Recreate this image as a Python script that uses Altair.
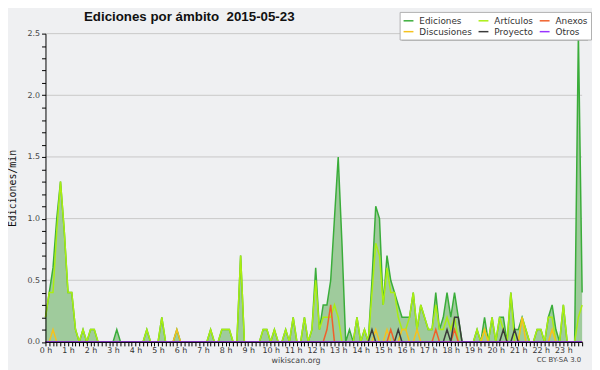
import altair as alt
import pandas as pd

# 10-minute bins, 0:00 .. 23:50 (one row per hour)
ediciones = [
    0.2, 0.4, 0.6, 1.0, 1.3, 0.9,
    0.4, 0.4, 0.1, 0.0, 0.1, 0.0,
    0.1, 0.1, 0.0, 0.0, 0.0, 0.0,
    0.0, 0.1, 0.0, 0.0, 0.0, 0.0,
    0.0, 0.0, 0.0, 0.1, 0.0, 0.0,
    0.0, 0.2, 0.0, 0.0, 0.0, 0.1,
    0.0, 0.0, 0.0, 0.0, 0.0, 0.0,
    0.0, 0.0, 0.1, 0.0, 0.0, 0.1,
    0.1, 0.1, 0.0, 0.0, 0.7, 0.0,
    0.0, 0.0, 0.0, 0.0, 0.1, 0.1,
    0.0, 0.1, 0.0, 0.0, 0.1, 0.0,
    0.2, 0.0, 0.0, 0.2, 0.0, 0.1,
    0.6, 0.1, 0.3, 0.3, 0.5, 1.0,
    1.5, 0.8, 0.0, 0.1, 0.0, 0.2,
    0.0, 0.1, 0.0, 0.5, 1.1, 1.0,
    0.3, 0.7, 0.5, 0.4, 0.3, 0.2,
    0.2, 0.2, 0.4, 0.1, 0.3, 0.2,
    0.1, 0.1, 0.4, 0.1, 0.2, 0.4,
    0.2, 0.4, 0.2, 0.0, 0.0, 0.0,
    0.0, 0.1, 0.0, 0.2, 0.0, 0.2,
    0.0, 0.2, 0.2, 0.0, 0.4, 0.1,
    0.1, 0.2, 0.1, 0.0, 0.0, 0.1,
    0.1, 0.0, 0.2, 0.3, 0.1, 0.0,
    0.3, 0.0, 0.0, 0.0, 2.5, 0.4,
]
articulos = [
    0.2, 0.4, 0.4, 0.9, 1.3, 0.9,
    0.4, 0.4, 0.1, 0.0, 0.1, 0.0,
    0.1, 0.1, 0.0, 0.0, 0.0, 0.0,
    0.0, 0.0, 0.0, 0.0, 0.0, 0.0,
    0.0, 0.0, 0.0, 0.1, 0.0, 0.0,
    0.0, 0.2, 0.0, 0.0, 0.0, 0.0,
    0.0, 0.0, 0.0, 0.0, 0.0, 0.0,
    0.0, 0.0, 0.1, 0.0, 0.0, 0.1,
    0.1, 0.1, 0.0, 0.0, 0.7, 0.0,
    0.0, 0.0, 0.0, 0.0, 0.1, 0.1,
    0.0, 0.1, 0.0, 0.0, 0.1, 0.0,
    0.2, 0.0, 0.0, 0.2, 0.0, 0.1,
    0.5, 0.1, 0.2, 0.2, 0.2, 0.3,
    0.2, 0.0, 0.0, 0.0, 0.0, 0.2,
    0.0, 0.1, 0.0, 0.4, 0.8, 0.7,
    0.3, 0.6, 0.4, 0.4, 0.2, 0.1,
    0.1, 0.2, 0.4, 0.1, 0.3, 0.2,
    0.1, 0.1, 0.3, 0.1, 0.1, 0.2,
    0.1, 0.2, 0.0, 0.0, 0.0, 0.0,
    0.0, 0.1, 0.0, 0.1, 0.0, 0.2,
    0.0, 0.2, 0.1, 0.0, 0.4, 0.0,
    0.0, 0.2, 0.1, 0.0, 0.0, 0.1,
    0.1, 0.0, 0.2, 0.2, 0.0, 0.0,
    0.3, 0.0, 0.0, 0.0, 0.2, 0.3,
]
discusiones = [
    0.0, 0.0, 0.1, 0.0, 0.0, 0.0,
    0.0, 0.0, 0.0, 0.0, 0.0, 0.0,
    0.0, 0.0, 0.0, 0.0, 0.0, 0.0,
    0.0, 0.0, 0.0, 0.0, 0.0, 0.0,
    0.0, 0.0, 0.0, 0.0, 0.0, 0.0,
    0.0, 0.0, 0.0, 0.0, 0.0, 0.1,
    0.0, 0.0, 0.0, 0.0, 0.0, 0.0,
    0.0, 0.0, 0.0, 0.0, 0.0, 0.0,
    0.0, 0.0, 0.0, 0.0, 0.0, 0.0,
    0.0, 0.0, 0.0, 0.0, 0.0, 0.0,
    0.0, 0.0, 0.0, 0.0, 0.0, 0.0,
    0.0, 0.0, 0.0, 0.0, 0.0, 0.0,
    0.0, 0.0, 0.0, 0.0, 0.0, 0.0,
    0.0, 0.0, 0.0, 0.0, 0.0, 0.0,
    0.0, 0.0, 0.0, 0.0, 0.1, 0.0,
    0.0, 0.1, 0.0, 0.0, 0.0, 0.1,
    0.1, 0.0, 0.0, 0.1, 0.0, 0.0,
    0.0, 0.0, 0.0, 0.0, 0.0, 0.0,
    0.0, 0.0, 0.0, 0.0, 0.0, 0.0,
    0.0, 0.0, 0.0, 0.1, 0.0, 0.0,
    0.0, 0.0, 0.0, 0.0, 0.0, 0.0,
    0.0, 0.2, 0.0, 0.0, 0.0, 0.0,
    0.0, 0.0, 0.0, 0.1, 0.0, 0.0,
    0.0, 0.0, 0.0, 0.0, 0.0, 0.0,
]
anexos = [
    0.0, 0.0, 0.0, 0.0, 0.0, 0.0,
    0.0, 0.0, 0.0, 0.0, 0.0, 0.0,
    0.0, 0.0, 0.0, 0.0, 0.0, 0.0,
    0.0, 0.0, 0.0, 0.0, 0.0, 0.0,
    0.0, 0.0, 0.0, 0.0, 0.0, 0.0,
    0.0, 0.0, 0.0, 0.0, 0.0, 0.0,
    0.0, 0.0, 0.0, 0.0, 0.0, 0.0,
    0.0, 0.0, 0.0, 0.0, 0.0, 0.0,
    0.0, 0.0, 0.0, 0.0, 0.0, 0.0,
    0.0, 0.0, 0.0, 0.0, 0.0, 0.0,
    0.0, 0.0, 0.0, 0.0, 0.0, 0.0,
    0.0, 0.0, 0.0, 0.0, 0.0, 0.0,
    0.0, 0.0, 0.0, 0.1, 0.3, 0.0,
    0.0, 0.0, 0.0, 0.0, 0.0, 0.0,
    0.0, 0.0, 0.0, 0.0, 0.0, 0.0,
    0.0, 0.0, 0.1, 0.0, 0.0, 0.0,
    0.0, 0.0, 0.0, 0.0, 0.0, 0.0,
    0.0, 0.0, 0.1, 0.0, 0.0, 0.0,
    0.0, 0.1, 0.0, 0.0, 0.0, 0.0,
    0.0, 0.0, 0.0, 0.0, 0.0, 0.0,
    0.0, 0.0, 0.0, 0.0, 0.0, 0.0,
    0.0, 0.0, 0.0, 0.0, 0.0, 0.0,
    0.0, 0.0, 0.0, 0.0, 0.0, 0.0,
    0.0, 0.0, 0.0, 0.0, 0.0, 0.0,
]
proyecto = [
    0.0, 0.0, 0.0, 0.0, 0.0, 0.0,
    0.0, 0.0, 0.0, 0.0, 0.0, 0.0,
    0.0, 0.0, 0.0, 0.0, 0.0, 0.0,
    0.0, 0.0, 0.0, 0.0, 0.0, 0.0,
    0.0, 0.0, 0.0, 0.0, 0.0, 0.0,
    0.0, 0.0, 0.0, 0.0, 0.0, 0.0,
    0.0, 0.0, 0.0, 0.0, 0.0, 0.0,
    0.0, 0.0, 0.0, 0.0, 0.0, 0.0,
    0.0, 0.0, 0.0, 0.0, 0.0, 0.0,
    0.0, 0.0, 0.0, 0.0, 0.0, 0.0,
    0.0, 0.0, 0.0, 0.0, 0.0, 0.0,
    0.0, 0.0, 0.0, 0.0, 0.0, 0.0,
    0.0, 0.0, 0.0, 0.0, 0.0, 0.0,
    0.0, 0.0, 0.0, 0.0, 0.0, 0.0,
    0.0, 0.0, 0.0, 0.1, 0.0, 0.0,
    0.0, 0.0, 0.0, 0.0, 0.1, 0.0,
    0.0, 0.0, 0.0, 0.0, 0.0, 0.0,
    0.0, 0.0, 0.0, 0.0, 0.0, 0.1,
    0.0, 0.2, 0.2, 0.0, 0.0, 0.0,
    0.0, 0.0, 0.0, 0.0, 0.0, 0.0,
    0.0, 0.0, 0.1, 0.0, 0.0, 0.1,
    0.0, 0.0, 0.0, 0.0, 0.0, 0.0,
    0.0, 0.0, 0.0, 0.0, 0.0, 0.0,
    0.0, 0.0, 0.0, 0.0, 0.0, 0.0,
]
otros = [0.0] * 144

# legend is laid out column by column: (Ediciones, Discusiones), (Artículos, Proyecto), (Anexos, Otros)
series_names = ["Ediciones", "Discusiones", "Artículos", "Proyecto", "Anexos", "Otros"]
series_colors = ["#3aad3a", "#f5c21e", "#aaee11", "#3a3a3a", "#f0602a", "#9933ff"]
draw_order = ["Ediciones", "Artículos", "Discusiones", "Anexos", "Proyecto", "Otros"]
series_values = {
    "Ediciones": ediciones,
    "Artículos": articulos,
    "Discusiones": discusiones,
    "Anexos": anexos,
    "Proyecto": proyecto,
    "Otros": otros,
}
grid_values = [0.5, 1.0, 1.5, 2.0, 2.5]
x_ticks = list(range(144))
y_ticks = [round(k * 0.1, 1) for k in range(26)]

rows = []
for name, vals in series_values.items():
    for i, v in enumerate(vals):
        rows.append({"t": i, "serie": name, "v": v})
df = pd.DataFrame(rows)

FONT = "DejaVu Sans"
LEG_X, LEG_Y = 359, -22

x_enc = alt.X(
    "t:Q",
    scale=alt.Scale(domain=[0, 143], nice=False, zero=False),
    axis=alt.Axis(
        values=x_ticks, title=None, grid=False, zindex=1,
        labelExpr="datum.value % 6 == 0 ? (datum.value / 6) + ' h' : ''",
        labelOverlap=False, labelFont=FONT, labelFontSize=8, labelColor="#333",
        labelPadding=1, tickSize=4, tickColor="#000", domainColor="#000",
        labelFlush=False,
    ),
)
y_axis = alt.Axis(
    values=y_ticks, title=None, grid=False, zindex=1,
    labelExpr="round(datum.value * 10) % 5 == 0 ? format(datum.value, '.1f') : ''",
    labelOverlap=False, labelFont=FONT, labelFontSize=8, labelColor="#444",
    labelPadding=2, tickSize=4, tickColor="#000", domainColor="#000",
    labelFlush=False,
)
y_enc = alt.Y("v:Q", scale=alt.Scale(domain=[0, 2.5], nice=False), axis=y_axis)

grid = alt.Chart(pd.DataFrame({"v": grid_values})).mark_rule(
    color="#c8c8c8", strokeWidth=1
).encode(y=y_enc)

area = alt.Chart(df).transform_filter(alt.datum.serie == "Ediciones").mark_area(
    color="#9fcb9c", opacity=1, interpolate="linear"
).encode(x=x_enc, y=y_enc)

color_enc = alt.Color(
    "serie:N",
    scale=alt.Scale(domain=series_names, range=series_colors),
    legend=alt.Legend(
        title=None, orient="none", legendX=LEG_X, legendY=LEG_Y, columns=3,
        symbolType="stroke", symbolSize=100, symbolStrokeWidth=1.5,
        labelFont=FONT, labelFontSize=9, labelColor="#333", labelOffset=5,
        fillColor="white", strokeColor="#b0b0b0", padding=3,
        rowPadding=0, columnPadding=3,
    ),
)

lines = []
for s in draw_order:
    lines.append(
        alt.Chart(df).transform_filter(alt.datum.serie == s)
        .mark_line(strokeWidth=1.5, interpolate="linear")
        .encode(x=x_enc, y=y_enc, color=color_enc)
    )

one = pd.DataFrame({"k": [0]})
shadow = alt.Chart(one).mark_rect(color="#8a8a8a").encode(
    x=alt.value(LEG_X + 2), x2=alt.value(LEG_X + 191),
    y=alt.value(LEG_Y + 2), y2=alt.value(LEG_Y + 29),
)
title = alt.Chart(one).mark_text(
    font="Liberation Sans", fontSize=13.5, fontWeight="bold", align="left",
    baseline="alphabetic", color="#111"
).encode(x=alt.value(39), y=alt.value(-13),
         text=alt.value("Ediciones por ámbito\u00a0\u00a02015-05-23"))
ytitle = alt.Chart(one).mark_text(
    font="DejaVu Sans Mono", fontSize=10, angle=270, align="center",
    baseline="middle", color="#111"
).encode(x=alt.value(-33), y=alt.value(157), text=alt.value("Ediciones/min"))
credit = alt.Chart(one).mark_text(
    font=FONT, fontSize=8, align="center", baseline="alphabetic", color="#444"
).encode(x=alt.value(254), y=alt.value(333.5), text=alt.value("wikiscan.org"))
lic = alt.Chart(one).mark_text(
    font=FONT, fontSize=7, align="right", baseline="alphabetic", color="#444"
).encode(x=alt.value(543), y=alt.value(333), text=alt.value("CC BY-SA 3.0"))

chart = alt.layer(grid, area, *lines, shadow, title, ytitle, credit, lic).properties(
    width=544, height=312.5,
    autosize=alt.AutoSizeParams(type="none"),
    padding={"left": 38, "top": 23.5, "right": 10, "bottom": 26},
    background="#eff0f2",
).configure_view(stroke=None)

chart.save("out.html", embed_options={"renderer": "svg", "actions": False})
